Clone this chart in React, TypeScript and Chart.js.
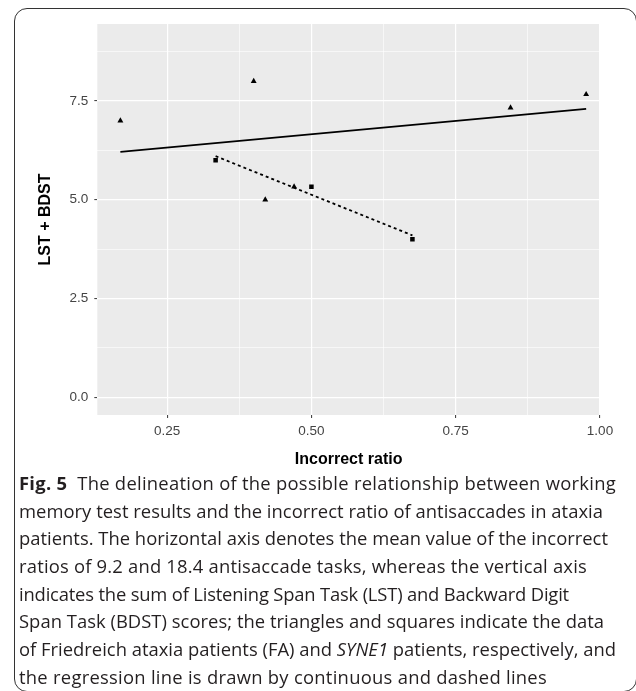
import React, { useEffect, useLayoutEffect, useRef } from "react";
import { Chart, registerables } from "chart.js";

Chart.register(...registerables);

// Friedreich ataxia patients (triangles)
const faX = [0.169, 0.4, 0.42, 0.47, 0.845, 0.976];
const faY = [7.0, 8.0, 5.0, 5.33, 7.33, 7.67];
// SYNE1 patients (squares)
const syneX = [0.334, 0.5, 0.675];
const syneY = [6.0, 5.33, 4.0];

const xTickValues = [0.25, 0.375, 0.5, 0.625, 0.75, 0.875, 1.0];
const xTickLabels = ["0.25", "", "0.50", "", "0.75", "", "1.00"];
const yTickValues = [0, 1.25, 2.5, 3.75, 5, 6.25, 7.5, 8.75];
const yTickLabels = ["0.0", "", "2.5", "", "5.0", "", "7.5", ""];
const xRange = [0.129, 1.0];
const yRange = [-0.45, 9.45];

const xTitle = "Incorrect ratio";
const yTitle = "LST + BDST";

// caption line target widths (px) used only to set text tracking
const captionWidths = [597, 584, 589, 568, 550, 585, 597, 528];

function fitLine(xs: number[], ys: number[]) {
  const n = xs.length;
  const mx = xs.reduce((a, b) => a + b, 0) / n;
  const my = ys.reduce((a, b) => a + b, 0) / n;
  let sxy = 0;
  let sxx = 0;
  for (let i = 0; i < n; i++) {
    sxy += (xs[i] - mx) * (ys[i] - my);
    sxx += (xs[i] - mx) * (xs[i] - mx);
  }
  const slope = sxy / sxx;
  const b = my - slope * mx;
  const x0 = Math.min(...xs);
  const x1 = Math.max(...xs);
  return [
    { x: x0, y: b + slope * x0 },
    { x: x1, y: b + slope * x1 },
  ];
}

const panelBg = {
  id: "panelBg",
  beforeDraw(chart: any) {
    const { ctx, chartArea } = chart;
    ctx.save();
    ctx.fillStyle = "#EBEBEB";
    ctx.fillRect(chartArea.left, chartArea.top, chartArea.right - chartArea.left, chartArea.bottom - chartArea.top);
    ctx.restore();
  },
};

const FONT = '"Liberation Sans", Arial, Helvetica, sans-serif';

export default function App() {
  const ref = useRef<HTMLCanvasElement | null>(null);
  const lineRefs = useRef<(HTMLDivElement | null)[]>([]);

  useLayoutEffect(() => {
    const fit = () => {
      lineRefs.current.forEach((el, i) => {
        if (!el) return;
        el.style.letterSpacing = "0px";
        const natural = el.getBoundingClientRect().width;
        const n = (el.textContent || "").length;
        if (n > 1) {
          const ls = (captionWidths[i] - natural) / n;
          el.style.letterSpacing = ls.toFixed(3) + "px";
        }
      });
    };
    fit();
    if ((document as any).fonts && (document as any).fonts.ready) {
      (document as any).fonts.ready.then(fit);
    }
  }, []);

  useEffect(() => {
    if (!ref.current) return;
    const faPts = faX.map((x, i) => ({ x, y: faY[i] }));
    const synePts = syneX.map((x, i) => ({ x, y: syneY[i] }));
    const chart = new Chart(ref.current, {
      type: "scatter",
      data: {
        datasets: [
          {
            label: "FA",
            data: faPts,
            pointStyle: "triangle",
            pointRadius: 3.4,
            backgroundColor: "#000",
            borderColor: "#000",
            borderWidth: 0,
          },
          {
            label: "SYNE1",
            data: synePts,
            pointStyle: "rect",
            pointRadius: 3.2,
            backgroundColor: "#000",
            borderColor: "#000",
            borderWidth: 0,
          },
          {
            label: "FA fit",
            data: fitLine(faX, faY),
            showLine: true,
            borderColor: "#000",
            borderWidth: 1.9,
            pointRadius: 0,
          },
          {
            label: "SYNE1 fit",
            data: fitLine(syneX, syneY),
            showLine: true,
            borderColor: "#000",
            borderWidth: 1.8,
            borderDash: [3, 3],
            pointRadius: 0,
          },
        ],
      },
      options: {
        animation: false,
        responsive: false,
        layout: { padding: { left: 0, top: 24, right: 36, bottom: 0 } },
        plugins: { legend: { display: false }, tooltip: { enabled: false } },
        scales: {
          x: {
            type: "linear",
            min: xRange[0],
            max: xRange[1],
            afterBuildTicks: (s: any) => {
              s.ticks = xTickValues.map((v) => ({ value: v }));
            },
            afterFit: (s: any) => {
              s.height = 65;
            },
            ticks: {
              autoSkip: false,
              maxRotation: 0,
              padding: 5.6,
              color: "#444444",
              font: { family: FONT, size: 13.5 },
              callback: (_v: any, i: number) => xTickLabels[i],
            },
            grid: {
              color: "#FFFFFF",
              lineWidth: (c: any) => (xTickLabels[c.index] ? 1.2 : 0.6),
              tickColor: (c: any) => (xTickLabels[c.index] ? "#333333" : "rgba(0,0,0,0)"),
              tickLength: 3,
              tickWidth: 1,
            },
            border: { display: false },
            title: {
              display: true,
              text: xTitle,
              color: "#000",
              font: { family: FONT, size: 16, weight: "bold" },
              padding: { top: 0, bottom: 10.5 },
            },
          },
          y: {
            type: "linear",
            min: yRange[0],
            max: yRange[1],
            afterBuildTicks: (s: any) => {
              s.ticks = yTickValues.map((v) => ({ value: v }));
            },
            afterFit: (s: any) => {
              s.width = 97.3;
            },
            ticks: {
              autoSkip: false,
              padding: 6,
              color: "#444444",
              font: { family: FONT, size: 13.5 },
              callback: (_v: any, i: number) => yTickLabels[i],
            },
            grid: {
              color: "#FFFFFF",
              lineWidth: (c: any) => (yTickLabels[c.index] ? 1.2 : 0.6),
              tickColor: (c: any) => (yTickLabels[c.index] ? "#333333" : "rgba(0,0,0,0)"),
              tickLength: 3,
              tickWidth: 1,
            },
            border: { display: false },
            title: {
              display: true,
              text: yTitle,
              color: "#000",
              font: { family: FONT, size: 16, weight: "bold" },
              padding: { top: 36.4, bottom: 0 },
            },
          },
        },
      },
      plugins: [panelBg],
    } as any);
    return () => chart.destroy();
  }, []);

  const capFont = '"Open Sans", "Noto Sans", sans-serif';
  const lineStyle: React.CSSProperties = { whiteSpace: "nowrap", height: 27.7, display: "block", width: "max-content" };
  const setRef = (i: number) => (el: HTMLDivElement | null) => {
    lineRefs.current[i] = el;
  };

  return (
    <div
      style={{
        position: "fixed",
        left: 0,
        top: 0,
        width: 636,
        height: 691,
        overflow: "hidden",
        background: "#fff",
      }}
    >
      <div
        style={{
          position: "absolute",
          left: 14,
          top: 8,
          width: 623,
          height: 684,
          border: "1px solid #333",
          borderRadius: 13,
          boxSizing: "border-box",
        }}
      />
      <canvas
        ref={ref}
        width={636}
        height={480}
        style={{ position: "absolute", left: 0, top: 0, width: 636, height: 480 }}
      />
      <div
        style={{
          position: "absolute",
          left: 19,
          top: 469,
          fontFamily: capFont,
          fontSize: 18.4,
          lineHeight: "27.7px",
          color: "#231f20",
        }}
      >
        <div ref={setRef(0)} style={lineStyle}>
          <b>Fig. 5</b>
          <span style={{ marginLeft: 10 }}>The delineation of the possible relationship between working</span>
        </div>
        <div ref={setRef(1)} style={lineStyle}>memory test results and the incorrect ratio of antisaccades in ataxia</div>
        <div ref={setRef(2)} style={lineStyle}>patients. The horizontal axis denotes the mean value of the incorrect</div>
        <div ref={setRef(3)} style={lineStyle}>ratios of 9.2 and 18.4 antisaccade tasks, whereas the vertical axis</div>
        <div ref={setRef(4)} style={lineStyle}>indicates the sum of Listening Span Task (LST) and Backward Digit</div>
        <div ref={setRef(5)} style={lineStyle}>Span Task (BDST) scores; the triangles and squares indicate the data</div>
        <div ref={setRef(6)} style={lineStyle}>
          of Friedreich ataxia patients (FA) and <i>SYNE1</i> patients, respectively, and
        </div>
        <div ref={setRef(7)} style={lineStyle}>the regression line is drawn by continuous and dashed lines</div>
      </div>
    </div>
  );
}
